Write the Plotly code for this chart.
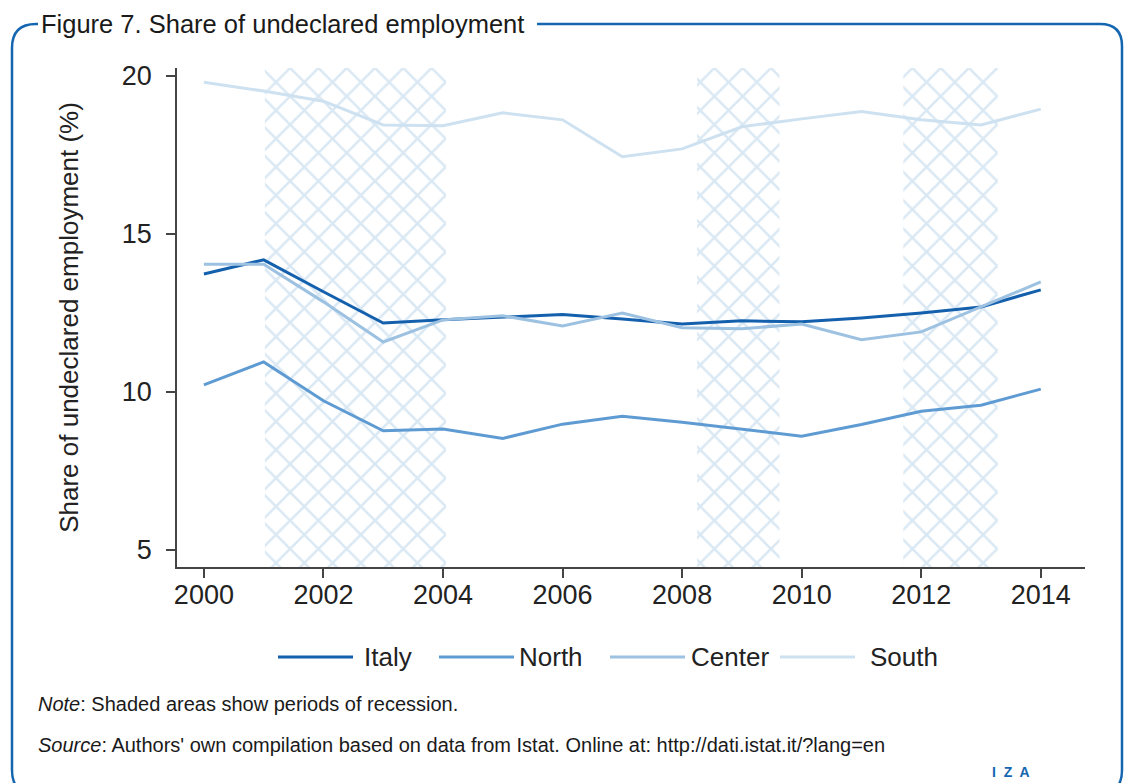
import plotly.graph_objects as go

years = list(range(2000, 2015))
italy = [13.73, 14.18, 13.17, 12.18, 12.28, 12.36, 12.45, 12.31, 12.15, 12.25, 12.22, 12.34, 12.50, 12.69, 13.23]
north = [10.22, 10.95, 9.72, 8.77, 8.83, 8.53, 8.98, 9.23, 9.04, 8.82, 8.60, 8.97, 9.39, 9.58, 10.09]
center = [14.04, 14.04, 12.85, 11.58, 12.28, 12.41, 12.09, 12.50, 12.03, 12.00, 12.15, 11.65, 11.90, 12.69, 13.48]
south = [19.80, 19.52, 19.20, 18.45, 18.42, 18.83, 18.61, 17.44, 17.69, 18.39, 18.64, 18.87, 18.61, 18.45, 18.95]

recession_start = [2001.02, 2008.25, 2011.70]
recession_end = [2004.05, 2009.63, 2013.28]

series_names = ["Italy", "North", "Center", "South"]
series_colors = ["#1460ad", "#5f9bd3", "#9dc1e1", "#cde1f0"]

XR = [1999.55, 2014.74]
YR = [4.46, 20.25]

W, H = 1125, 783
L, R, T, B = 177, 1085, 68, 567

FONT = "Liberation Sans, Arial, sans-serif"

fig = go.Figure()

# recession shading
fig.add_trace(go.Bar(
    x=[(s + e) / 2 for s, e in zip(recession_start, recession_end)],
    width=[e - s for s, e in zip(recession_start, recession_end)],
    base=[YR[0]] * len(recession_start),
    y=[YR[1] - YR[0]] * len(recession_start),
    marker=dict(color="#b3d1e8", line=dict(width=0),
                pattern=dict(shape="x", size=20, solidity=0.24,
                             fgcolor="#b3d1e8", bgcolor="white")),
    showlegend=False, hoverinfo="skip",
))

for name, vals, col in zip(series_names, [italy, north, center, south], series_colors):
    fig.add_trace(go.Scatter(x=years, y=vals, mode="lines", name=name,
                             line=dict(color=col, width=3), showlegend=False))

def px(x):
    return (x - L) / (R - L)

def py(y):
    return (B - y) / (B - T)

# legend (manual, to reproduce long legend keys)
leg_line = [(278, 353), (439, 514), (610, 685), (780, 855)]
leg_text = [362, 517, 689, 868]
LEG_Y = 657
for name, col, (x0, x1), tx in zip(series_names, series_colors, leg_line, leg_text):
    fig.add_shape(type="line", xref="paper", yref="paper",
                  x0=px(x0), x1=px(x1), y0=py(LEG_Y), y1=py(LEG_Y),
                  line=dict(color=col, width=3))
    fig.add_annotation(text=name, xref="paper", yref="paper", x=px(tx), y=py(LEG_Y),
                       xanchor="left", yanchor="middle", showarrow=False,
                       font=dict(family=FONT, size=26, color="#222222"))

# frame
frame = (f"M {px(537)},{py(24)} L {px(1100)},{py(24)} "
         f"Q {px(1122)},{py(24)} {px(1122)},{py(46)} L {px(1122)},{py(770)} "
         f"Q {px(1122)},{py(795)} {px(1097)},{py(795)} L {px(37)},{py(795)} "
         f"Q {px(12)},{py(795)} {px(12)},{py(770)} L {px(12)},{py(48)} "
         f"Q {px(12)},{py(24)} {px(36)},{py(24)} L {px(38)},{py(24)}")
fig.add_shape(type="path", path=frame, xref="paper", yref="paper",
              line=dict(color="#1566b0", width=2.5), layer="above")

fig.add_annotation(text="Figure 7. Share of undeclared employment", xref="paper", yref="paper",
                   x=px(39), y=py(24), xanchor="left", yanchor="middle", showarrow=False,
                   font=dict(family=FONT, size=25.5, color="#1a1a1a"))

fig.add_annotation(text="<i>Note</i>: Shaded areas show periods of recession.", xref="paper", yref="paper",
                   x=px(36), y=py(704), xanchor="left", yanchor="middle", showarrow=False,
                   font=dict(family=FONT, size=20, color="#1a1a1a"))
fig.add_annotation(text="<i>Source</i>: Authors' own compilation based on data from Istat. Online at: http://dati.istat.it/?lang=en",
                   xref="paper", yref="paper",
                   x=px(36), y=py(745), xanchor="left", yanchor="middle", showarrow=False,
                   font=dict(family=FONT, size=20, color="#1a1a1a"))
fig.add_annotation(text="<b>I  Z  A</b>", xref="paper", yref="paper",
                   x=px(1011), y=py(772), xanchor="center", yanchor="middle", showarrow=False,
                   font=dict(family=FONT, size=14, color="#1566b0"))

fig.update_layout(
    width=W, height=H,
    margin=dict(l=L, r=W - R, t=T, b=H - B),
    paper_bgcolor="white", plot_bgcolor="white",
    barmode="overlay",
    font=dict(family=FONT, color="#222222"),
    showlegend=False,
    xaxis=dict(range=XR, tickmode="array", tickvals=list(range(2000, 2015, 2)),
               showgrid=False, zeroline=False, showline=True, linecolor="#444444", linewidth=1.5,
               ticks="outside", ticklen=9, tickcolor="#444444", tickwidth=1.5,
               ticklabelstandoff=-6,
               tickfont=dict(family=FONT, size=27, color="#222222")),
    yaxis=dict(range=YR, tickmode="array", tickvals=[5, 10, 15, 20],
               showgrid=False, zeroline=False, showline=True, linecolor="#444444", linewidth=1.5,
               ticks="outside", ticklen=9, tickcolor="#444444", tickwidth=1.5,
               ticklabelstandoff=9,
               tickfont=dict(family=FONT, size=27, color="#222222"),
               title=dict(text="Share of undeclared employment (%)", standoff=36,
                          font=dict(family=FONT, size=26, color="#222222"))),
)

fig.write_html("out.html", config={"displayModeBar": False},
               post_script="document.body.style.margin='0';document.body.style.overflow='hidden';")
